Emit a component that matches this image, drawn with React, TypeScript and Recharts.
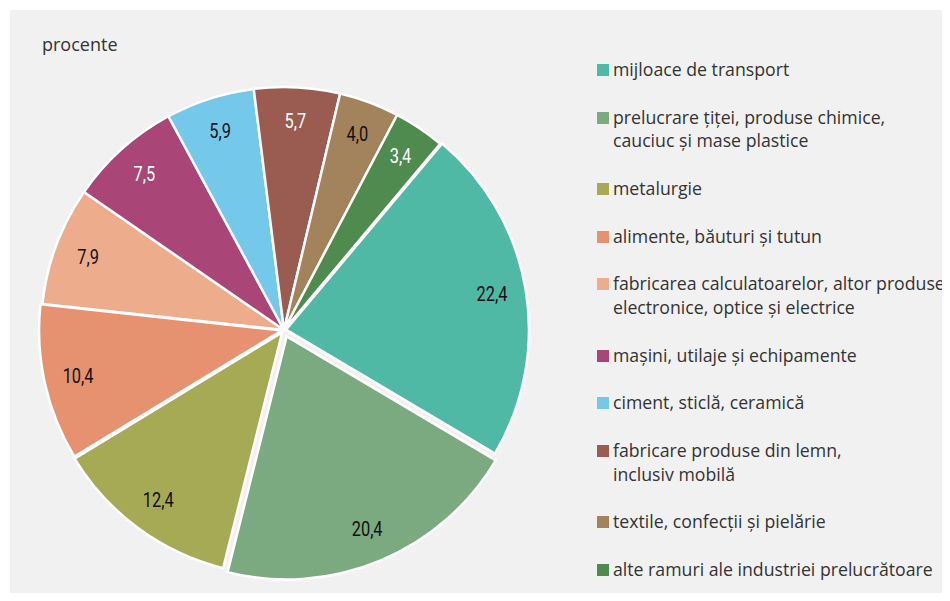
import { PieChart, Pie, Cell, Legend } from "recharts";

const categories = [
  "mijloace de transport",
  "prelucrare țiței, produse chimice,\ncauciuc și mase plastice",
  "metalurgie",
  "alimente, băuturi și tutun",
  "fabricarea calculatoarelor, altor produse\nelectronice, optice și electrice",
  "mașini, utilaje și echipamente",
  "ciment, sticlă, ceramică",
  "fabricare produse din lemn,\ninclusiv mobilă",
  "textile, confecții și pielărie",
  "alte ramuri ale industriei prelucrătoare",
];
const values = [22.4, 20.4, 12.4, 10.4, 7.9, 7.5, 5.9, 5.7, 4.0, 3.4];

const colors = [
  "#50b9a6",
  "#7baa80",
  "#a7aa55",
  "#e6916f",
  "#edad8c",
  "#a94677",
  "#74c8ea",
  "#9a5c50",
  "#a3835b",
  "#4f8a4f",
];
const labelColors = [
  "#111",
  "#111",
  "#111",
  "#111",
  "#111",
  "#fff",
  "#111",
  "#fff",
  "#111",
  "#fff",
];
// how far (px) each slice is pulled out of the pie
const explode = [2, 7, 3, 2, 0, 0, 0, 0, 0, 0];

const data = categories.map((name, i) => ({ name, value: values[i] }));

// recharts adds the default 5px margin to cx / cy
const CX = 269;
const CY = 315;
const R = 243;
const START = 50;
const RAD = Math.PI / 180;

const total = values.reduce((a, b) => a + b, 0);
const midAngles = values.map((v, i) => {
  const before = values.slice(0, i).reduce((a, b) => a + b, 0);
  return START - ((before + v / 2) / total) * 360;
});
const shift = (i: number) => ({
  dx: explode[i] * Math.cos(midAngles[i] * RAD),
  dy: -explode[i] * Math.sin(midAngles[i] * RAD),
});

const renderLabel = (props: any) => {
  const { cx, cy, midAngle, outerRadius, index, value } = props;
  const { dx, dy } = shift(index);
  const r = outerRadius * 0.86;
  const x = cx + r * Math.cos(-midAngle * RAD) + dx;
  const y = cy + r * Math.sin(-midAngle * RAD) + dy;
  return (
    <text
      x={0}
      y={0}
      transform={`translate(${x},${y}) scale(0.78,1)`}
      fill={labelColors[index]}
      textAnchor="middle"
      dominantBaseline="central"
      fontSize={21}
      fontFamily="Roboto, sans-serif"
    >
      {Number(value).toFixed(1).replace(".", ",")}
    </text>
  );
};

const LINE = 23.8;

const renderLegend = () => (
  <div
    style={{
      fontFamily: "'Open Sans', sans-serif",
      fontSize: 17.7,
      color: "#333",
      lineHeight: `${LINE}px`,
    }}
  >
    {categories.map((name, i) => (
      <div
        key={name}
        style={{ display: "flex", alignItems: "flex-start", marginBottom: LINE }}
      >
        <span
          style={{
            width: 12,
            height: 12,
            background: colors[i],
            marginTop: 6,
            marginRight: 4,
            flexShrink: 0,
          }}
        />
        <span style={{ whiteSpace: "pre" }}>{name}</span>
      </div>
    ))}
  </div>
);

export default function App() {
  return (
    <div
      style={{
        position: "relative",
        margin: -8,
        width: 950,
        height: 601,
        background: "#ffffff",
        overflow: "hidden",
      }}
    >
      <div
        style={{
          position: "absolute",
          left: 10,
          top: 10,
          width: 940,
          height: 591,
          background: "#f1f1f1",
        }}
      >
        <div
          style={{
            position: "absolute",
            left: 32,
            top: 22,
            fontFamily: "'Open Sans', sans-serif",
            fontSize: 18,
            color: "#333",
          }}
        >
          procente
        </div>
        <PieChart width={940} height={591}>
          <Legend
            content={renderLegend}
            wrapperStyle={{ position: "absolute", left: 587, top: 48, width: 400 }}
          />
          <Pie
            data={data}
            dataKey="value"
            nameKey="name"
            cx={CX}
            cy={CY}
            outerRadius={R}
            startAngle={START}
            endAngle={START - 360}
            stroke="#ffffff"
            strokeWidth={2.5}
            label={renderLabel}
            labelLine={false}
            isAnimationActive={false}
          >
            {data.map((d, i) => (
              <Cell
                key={`cell-${i}`}
                fill={explode[i] > 0 ? "none" : colors[i]}
                stroke={explode[i] > 0 ? "none" : "#ffffff"}
              />
            ))}
          </Pie>
          {explode.map((e, k) =>
            e > 0 ? (
              <Pie
                key={`ex-${k}`}
                data={data}
                dataKey="value"
                cx={CX + shift(k).dx}
                cy={CY + shift(k).dy}
                outerRadius={R}
                startAngle={START}
                endAngle={START - 360}
                strokeWidth={2.5}
                legendType="none"
                isAnimationActive={false}
              >
                {data.map((d, i) => (
                  <Cell
                    key={`ex-${k}-${i}`}
                    fill={i === k ? colors[i] : "none"}
                    stroke={i === k ? "#ffffff" : "none"}
                  />
                ))}
              </Pie>
            ) : null
          )}
        </PieChart>
      </div>
    </div>
  );
}
